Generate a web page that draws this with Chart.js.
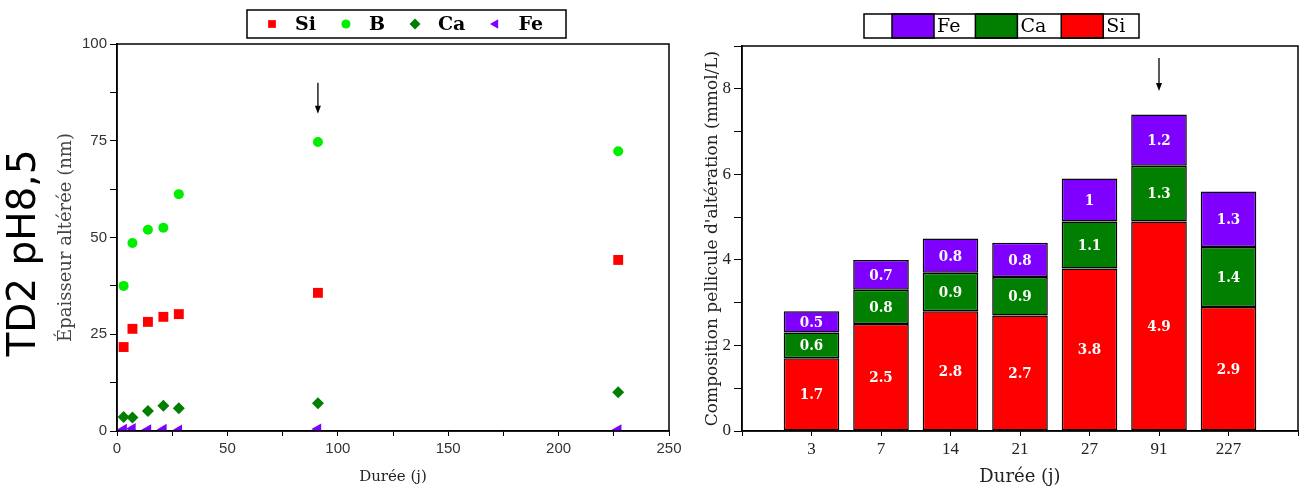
<!DOCTYPE html>
<html>
<head>
<meta charset="utf-8">
<script src="https://cdn.jsdelivr.net/npm/chart.js@4.4.1/dist/chart.umd.min.js"></script>
<style>
html, body { margin: 0; padding: 0; background: #fff; }
#wrap { position: relative; width: 1306px; height: 492px; overflow: hidden; }
#left { position: absolute; left: 0; top: 0; }
#right { position: absolute; left: 690px; top: 0; }
</style>
</head>
<body>
<div id="wrap">
  <canvas id="left" width="690" height="492"></canvas>
  <canvas id="right" width="616" height="492"></canvas>
</div>
<script>
// left panel : épaisseur altérée (nm) vs durée (j)
var durees = [3, 7, 14, 21, 28, 91, 227];
var epSi = [21.7, 26.4, 28.2, 29.5, 30.2, 35.7, 44.2];
var epB  = [37.5, 48.6, 52, 52.5, 61.2, 74.7, 72.3];
var epCa = [3.6, 3.5, 5.2, 6.5, 5.9, 7.2, 10];
var epFe = [0.4, 0.6, 0.3, 0.4, 0.2, 0.5, 0.3];

// right panel : composition pellicule (mmol/L)
var jours = ['3', '7', '14', '21', '27', '91', '227'];
var compSi = [1.7, 2.5, 2.8, 2.7, 3.8, 4.9, 2.9];
var compCa = [0.6, 0.8, 0.9, 0.9, 1.1, 1.3, 1.4];
var compFe = [0.5, 0.7, 0.8, 0.8, 1, 1.2, 1.3];

function pts(ys){
  return durees.map(function(d, i){ return {x: d, y: ys[i]}; });
}
// empty slot at each end of the category axis
function pad(arr){
  return [null].concat(arr, [null]);
}

var framePlugin = {
  id: 'frame',
  afterDraw: function(chart){
    var a = chart.chartArea, ctx = chart.ctx;
    ctx.save();
    ctx.strokeStyle = '#000';
    ctx.lineWidth = 1.5;
    ctx.strokeRect(a.left, a.top, a.right - a.left, a.bottom - a.top);
    ctx.restore();
  }
};

var arrowPlugin = {
  id: 'arrow',
  afterDraw: function(chart, args, o){
    var xs = chart.scales.x, ys = chart.scales.y, ctx = chart.ctx;
    var px = typeof o.x === 'string' ? xs.getPixelForValue(xs.getLabels().indexOf(o.x)) : xs.getPixelForValue(o.x);
    var y1 = ys.getPixelForValue(o.from), y2 = ys.getPixelForValue(o.to);
    ctx.save();
    ctx.strokeStyle = '#000';
    ctx.fillStyle = '#000';
    ctx.lineWidth = 1.3;
    ctx.beginPath();
    ctx.moveTo(px, y1);
    ctx.lineTo(px, y2 - 6);
    ctx.stroke();
    ctx.beginPath();
    ctx.moveTo(px - 3, y2 - 8);
    ctx.lineTo(px + 3, y2 - 8);
    ctx.lineTo(px, y2);
    ctx.closePath();
    ctx.fill();
    ctx.restore();
  }
};

var sideTitlePlugin = {
  id: 'sideTitle',
  afterDraw: function(chart, args, o){
    if (!o.text) return;
    var ctx = chart.ctx;
    ctx.save();
    ctx.translate(o.x, o.y);
    ctx.rotate(-Math.PI / 2);
    ctx.font = o.font;
    ctx.fillStyle = '#000';
    ctx.textAlign = 'center';
    ctx.textBaseline = 'middle';
    ctx.fillText(o.text, 0, 0);
    ctx.restore();
  }
};

// legend in a framed box, markers taken from the datasets
var boxLegendPlugin = {
  id: 'boxLegend',
  afterDraw: function(chart, args, o){
    if (!o.box) return;
    var ctx = chart.ctx, b = o.box;
    var cy = (b.top + b.bottom) / 2;
    ctx.save();
    ctx.fillStyle = '#fff';
    ctx.fillRect(b.left, b.top, b.right - b.left, b.bottom - b.top);
    ctx.font = o.font;
    ctx.textBaseline = 'middle';
    ctx.textAlign = 'left';
    var sets = chart.data.datasets.slice();
    if (o.reverse) sets.reverse();
    var x = b.left + o.start;
    sets.forEach(function(ds){
      if (o.swatch) {
        ctx.fillStyle = ds.backgroundColor;
        ctx.fillRect(x, b.top, o.swatch, b.bottom - b.top);
        ctx.strokeStyle = '#000';
        ctx.lineWidth = 1.5;
        ctx.strokeRect(x, b.top, o.swatch, b.bottom - b.top);
        ctx.fillStyle = '#000';
        ctx.fillText(ds.label, x + o.swatch + 3, cy + 1);
        x += o.swatch + 3 + ctx.measureText(ds.label).width + o.gap;
      } else {
        ctx.fillStyle = ds.backgroundColor;
        ctx.strokeStyle = ds.backgroundColor;
        Chart.helpers.drawPoint(ctx, {
          pointStyle: ds.pointStyle,
          radius: ds.legendRadius,
          rotation: ds.rotation || 0,
          borderWidth: 0
        }, x, cy);
        ctx.fillStyle = '#000';
        ctx.fillText(ds.label, x + 23, cy + 1);
        x += 23 + ctx.measureText(ds.label).width + o.gap;
      }
    });
    ctx.strokeStyle = '#000';
    ctx.lineWidth = 1.5;
    ctx.strokeRect(b.left, b.top, b.right - b.left, b.bottom - b.top);
    ctx.restore();
  }
};

var barValuePlugin = {
  id: 'barValues',
  afterDatasetsDraw: function(chart, args, o){
    if (!o.font) return;
    var ctx = chart.ctx;
    ctx.save();
    ctx.font = o.font;
    ctx.fillStyle = '#fff';
    ctx.textAlign = 'center';
    ctx.textBaseline = 'middle';
    chart.data.datasets.forEach(function(ds, di){
      var meta = chart.getDatasetMeta(di);
      meta.data.forEach(function(bar, i){
        var v = ds.data[i];
        if (v === null || v === undefined) return;
        ctx.fillText(String(v), bar.x, (bar.y + bar.base) / 2 + 1);
      });
    });
    ctx.restore();
  }
};

Chart.register(framePlugin, arrowPlugin, sideTitlePlugin, boxLegendPlugin, barValuePlugin);

new Chart(document.getElementById('left'), {
  type: 'scatter',
  data: {
    datasets: [
      {label: 'Si', data: pts(epSi), backgroundColor: '#ff0000', pointStyle: 'rect', pointRadius: 7, legendRadius: 5.5, pointBorderWidth: 0},
      {label: 'B', data: pts(epB), backgroundColor: '#00ee00', pointStyle: 'circle', pointRadius: 5, legendRadius: 4.5, pointBorderWidth: 0},
      {label: 'Ca', data: pts(epCa), backgroundColor: '#007f00', pointStyle: 'rectRot', pointRadius: 6, legendRadius: 5.5, pointBorderWidth: 0},
      {label: 'Fe', data: pts(epFe), backgroundColor: '#8000ff', pointStyle: 'triangle', rotation: -90, pointRadius: 6.5, legendRadius: 5.5, pointBorderWidth: 0, clip: 0}
    ]
  },
  options: {
    responsive: false,
    animation: false,
    devicePixelRatio: 1,
    layout: {padding: {left: 51, top: 44, right: 21, bottom: 0}},
    plugins: {
      legend: {display: false},
      tooltip: {enabled: false},
      sideTitle: {text: 'TD2 pH8,5', x: 25, y: 253, font: '39px "DejaVu Sans"'},
      boxLegend: {box: {left: 247, top: 10, right: 566, bottom: 38}, start: 25, gap: 30, font: 'bold 19px "DejaVu Serif"'},
      arrow: {x: 91, from: 90, to: 82}
    },
    scales: {
      x: {
        type: 'linear', min: 0, max: 250,
        afterFit: function(s){ s.height = 61; },
        ticks: {stepSize: 25, autoSkip: false, maxRotation: 0, padding: 4, color: '#333',
          font: {family: 'Liberation Sans', size: 15},
          callback: function(v){ return v % 50 === 0 ? v : ''; }},
        grid: {drawOnChartArea: false, tickLength: 5, color: '#000'},
        border: {color: '#000', width: 1.5},
        title: {display: true, text: 'Durée (j)', color: '#222', font: {family: 'DejaVu Serif', size: 15}, padding: {top: 0, bottom: 6}}
      },
      y: {
        min: 0, max: 100,
        afterFit: function(s){ s.width = 66; },
        ticks: {stepSize: 12.5, autoSkip: false, padding: 3, color: '#333',
          font: {family: 'Liberation Sans', size: 15},
          callback: function(v){ return v % 25 === 0 ? v : ''; }},
        grid: {drawOnChartArea: false, tickLength: 7, color: '#000'},
        border: {color: '#000', width: 1.5},
        title: {display: true, text: 'Épaisseur altérée (nm)', color: '#444', font: {family: 'DejaVu Serif', size: 18}, padding: {top: 5, bottom: 0}}
      }
    }
  }
});

var barStyle = {borderColor: '#000', borderWidth: 1.5, borderSkipped: false, barPercentage: 0.8, categoryPercentage: 1};

new Chart(document.getElementById('right'), {
  type: 'bar',
  data: {
    labels: pad(jours).map(function(l){ return l === null ? '' : l; }),
    datasets: [
      Object.assign({label: 'Si', data: pad(compSi), backgroundColor: '#ff0000'}, barStyle),
      Object.assign({label: 'Ca', data: pad(compCa), backgroundColor: '#007f00'}, barStyle),
      Object.assign({label: 'Fe', data: pad(compFe), backgroundColor: '#8000ff'}, barStyle)
    ]
  },
  options: {
    responsive: false,
    animation: false,
    devicePixelRatio: 1,
    layout: {padding: {left: 0, top: 46, right: 8, bottom: 0}},
    plugins: {
      legend: {display: false},
      tooltip: {enabled: false},
      boxLegend: {box: {left: 174, top: 14, right: 449, bottom: 38}, start: 28, gap: 15, swatch: 42, reverse: true, font: '19px "DejaVu Serif"'},
      barValues: {font: 'bold 15px "DejaVu Serif Condensed", "DejaVu Serif"'},
      arrow: {x: '91', from: 8.72, to: 7.95}
    },
    scales: {
      x: {
        type: 'category', offset: false, stacked: true,
        afterFit: function(s){ s.height = 61; },
        ticks: {autoSkip: false, maxRotation: 0, padding: 3, color: '#222',
          font: {family: 'Liberation Serif', size: 17}},
        grid: {drawOnChartArea: false, offset: false, tickLength: 5, color: '#000'},
        border: {color: '#000', width: 1.5},
        title: {display: true, text: 'Durée (j)', color: '#222', font: {family: 'DejaVu Serif', size: 18}, padding: {top: 0, bottom: 4}}
      },
      y: {
        min: 0, max: 9, stacked: true,
        afterFit: function(s){ s.width = 52; },
        ticks: {stepSize: 1, autoSkip: false, padding: 3, color: '#222',
          font: {family: 'Liberation Serif', size: 17},
          callback: function(v){ return v % 2 === 0 ? v : ''; }},
        grid: {drawOnChartArea: false, tickLength: 8, color: '#000'},
        border: {color: '#000', width: 1.5},
        title: {display: true, text: "Composition pellicule d'altération (mmol/L)", color: '#222', font: {family: 'DejaVu Serif', size: 17}, padding: {top: 12, bottom: 0}}
      }
    }
  }
});
</script>
</body>
</html>
